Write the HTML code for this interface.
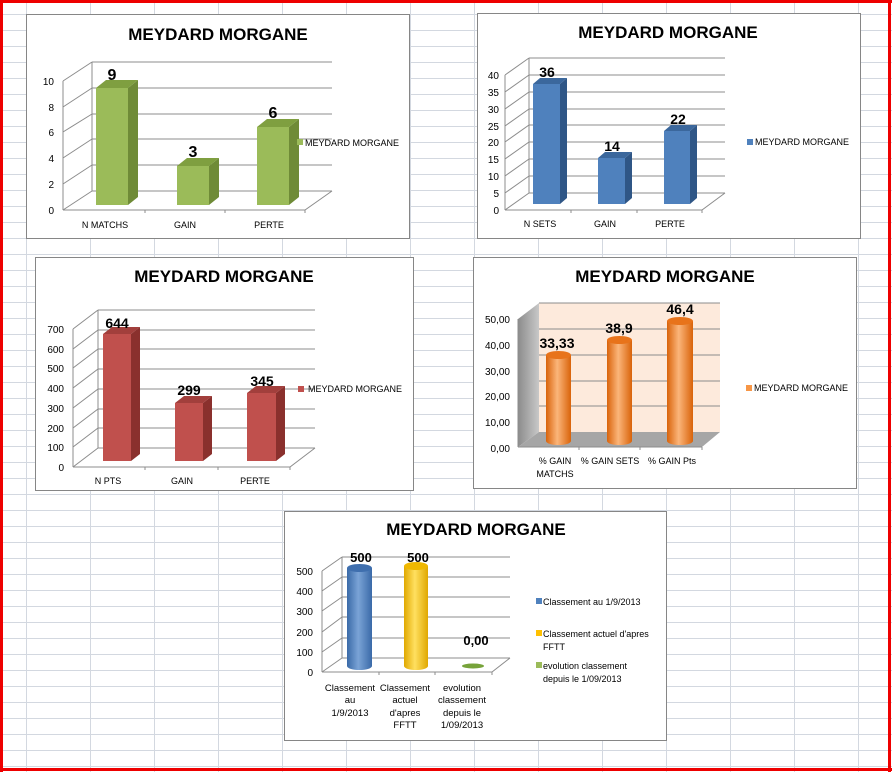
<!DOCTYPE html>
<html><head><meta charset="utf-8"><style>
html,body{margin:0;padding:0;width:892px;height:772px;overflow:hidden;background:#fff}
#bg{position:absolute;left:0;top:0;width:892px;height:772px;
background-image:repeating-linear-gradient(to right,transparent 0 26px,#d3d8e0 26px 27px,transparent 27px 64px),
repeating-linear-gradient(to bottom,transparent 0 14px,#d3d8e0 14px 15px,transparent 15px 16px);
background-size:64px 16px;background-position:0 0,0 0}
svg{position:absolute;left:0;top:0}
text{font-family:"Liberation Sans",sans-serif}
</style></head><body>
<div id="bg"></div>
<svg width="892" height="772" viewBox="0 0 892 772">
<defs>
<linearGradient id="og" x1="0" x2="1"><stop offset="0" stop-color="#d9630a"/><stop offset="0.45" stop-color="#fbb57a"/><stop offset="1" stop-color="#d9630a"/></linearGradient>
<linearGradient id="bgr" x1="0" x2="1"><stop offset="0" stop-color="#3a6aa8"/><stop offset="0.45" stop-color="#7aa3d6"/><stop offset="1" stop-color="#3a6aa8"/></linearGradient>
<linearGradient id="yg" x1="0" x2="1"><stop offset="0" stop-color="#e0a800"/><stop offset="0.45" stop-color="#ffe060"/><stop offset="1" stop-color="#e0a800"/></linearGradient>
<linearGradient id="sw" x1="0" x2="1"><stop offset="0" stop-color="#8c8c8c"/><stop offset="1" stop-color="#c8c8c8"/></linearGradient>
</defs>
<rect x="0" y="0" width="3" height="772" fill="#e00"/>
<rect x="0" y="0" width="892" height="3" fill="#e00"/>
<rect x="888" y="0" width="3" height="772" fill="#e00"/>
<rect x="0" y="768" width="892" height="3" fill="#e00"/>

<!-- CHART 1 -->
<rect x="26.5" y="14.5" width="383" height="224" fill="#fff" stroke="#868686"/>
<text x="218" y="40" font-size="17" font-weight="bold" text-anchor="middle">MEYDARD MORGANE</text>
<g stroke="#8c8c8c" stroke-width="1" fill="none">
<path d="M92 191H332M92 165H332M92 139H332M92 114H332M92 88H332M92 62H332M92 62V191"/>
<path d="M63 210L92 191M63 184L92 165M63 158L92 139M63 132L92 114M63 107L92 88M63 81L92 62"/>
<path d="M63 210H305L332 191M63 210V81M145 210v3M225 210v3M305 210v3"/>
</g>
<g font-size="10" text-anchor="end"><text x="54" y="214">0</text><text x="54" y="188">2</text><text x="54" y="162">4</text><text x="54" y="136">6</text><text x="54" y="111">8</text><text x="54" y="85">10</text></g>
<g><rect x="96" y="88" width="32" height="117" fill="#9bbb59"/><polygon points="128,205 138,197 138,80 128,88" fill="#6f8b37"/><polygon points="96,88 106,80 138,80 128,88" fill="#7f9f40"/>
<rect x="177" y="166" width="32" height="39" fill="#9bbb59"/><polygon points="209,205 219,197 219,158 209,166" fill="#6f8b37"/><polygon points="177,166 187,158 219,158 209,166" fill="#7f9f40"/>
<rect x="257" y="127" width="32" height="78" fill="#9bbb59"/><polygon points="289,205 299,197 299,119 289,127" fill="#6f8b37"/><polygon points="257,127 267,119 299,119 289,127" fill="#7f9f40"/></g>
<g font-size="16" font-weight="bold" text-anchor="middle"><text x="112" y="80">9</text><text x="193" y="157">3</text><text x="273" y="118">6</text></g>
<g font-size="9" text-anchor="middle"><text x="105" y="228">N MATCHS</text><text x="185" y="228">GAIN</text><text x="269" y="228">PERTE</text></g>
<rect x="297" y="139" width="6" height="6" fill="#9bbb59"/><text x="305" y="146" font-size="9">MEYDARD MORGANE</text>

<!-- CHART 2 -->
<rect x="477.5" y="13.5" width="383" height="225" fill="#fff" stroke="#868686"/>
<text x="668" y="38" font-size="17" font-weight="bold" text-anchor="middle">MEYDARD MORGANE</text>
<g stroke="#8c8c8c" fill="none">
<path d="M529 193H725M529 176H725M529 159H725M529 142H725M529 125H725M529 109H725M529 92H725M529 75H725M529 58H725M529 58V193"/>
<path d="M505 210L529 193M505 193L529 176M505 176L529 159M505 159L529 142M505 142L529 125M505 126L529 109M505 109L529 92M505 92L529 75M505 75L529 58"/>
<path d="M505 210H702L725 193M505 210V75M571 210v3M637 210v3M702 210v3"/>
</g>
<g font-size="10" text-anchor="end"><text x="499" y="214">0</text><text x="499" y="197">5</text><text x="499" y="180">10</text><text x="499" y="163">15</text><text x="499" y="146">20</text><text x="499" y="130">25</text><text x="499" y="113">30</text><text x="499" y="96">35</text><text x="499" y="79">40</text></g>
<g><rect x="533" y="84" width="27" height="120" fill="#4f81bd"/><polygon points="560,204 567,198 567,78 560,84" fill="#2f5686"/><polygon points="533,84 540,78 567,78 560,84" fill="#3b679c"/>
<rect x="598" y="158" width="27" height="46" fill="#4f81bd"/><polygon points="625,204 632,198 632,152 625,158" fill="#2f5686"/><polygon points="598,158 605,152 632,152 625,158" fill="#3b679c"/>
<rect x="664" y="131" width="26" height="73" fill="#4f81bd"/><polygon points="690,204 697,198 697,125 690,131" fill="#2f5686"/><polygon points="664,131 671,125 697,125 690,131" fill="#3b679c"/></g>
<g font-size="14" font-weight="bold" text-anchor="middle"><text x="547" y="77">36</text><text x="612" y="151">14</text><text x="678" y="124">22</text></g>
<g font-size="9" text-anchor="middle"><text x="540" y="227">N SETS</text><text x="605" y="227">GAIN</text><text x="670" y="227">PERTE</text></g>
<rect x="747" y="139" width="6" height="6" fill="#4f81bd"/><text x="755" y="145" font-size="9">MEYDARD MORGANE</text>

<!-- CHART 3 -->
<rect x="35.5" y="257.5" width="378" height="233" fill="#fff" stroke="#868686"/>
<text x="224" y="282" font-size="17" font-weight="bold" text-anchor="middle">MEYDARD MORGANE</text>
<g stroke="#8c8c8c" fill="none">
<path d="M98 448H315M98 428H315M98 409H315M98 389H315M98 369H315M98 349H315M98 330H315M98 310H315M98 310V448"/>
<path d="M73 467L98 448M73 447L98 428M73 428L98 409M73 408L98 389M73 388L98 369M73 368L98 349M73 349L98 330M73 329L98 310"/>
<path d="M73 467H290L315 448M73 467V329M145 467v3M218 467v3M290 467v3"/>
</g>
<g font-size="10" text-anchor="end"><text x="64" y="471">0</text><text x="64" y="451">100</text><text x="64" y="432">200</text><text x="64" y="412">300</text><text x="64" y="392">400</text><text x="64" y="372">500</text><text x="64" y="353">600</text><text x="64" y="333">700</text></g>
<g><rect x="103" y="334" width="28" height="127" fill="#c0504d"/><polygon points="131,461 140,454 140,327 131,334" fill="#8a302d"/><polygon points="103,334 112,327 140,327 131,334" fill="#a23f3c"/>
<rect x="175" y="403" width="28" height="58" fill="#c0504d"/><polygon points="203,461 212,454 212,396 203,403" fill="#8a302d"/><polygon points="175,403 184,396 212,396 203,403" fill="#a23f3c"/>
<rect x="247" y="393" width="29" height="68" fill="#c0504d"/><polygon points="276,461 285,454 285,386 276,393" fill="#8a302d"/><polygon points="247,393 256,386 285,386 276,393" fill="#a23f3c"/></g>
<g font-size="14" font-weight="bold" text-anchor="middle"><text x="117" y="328">644</text><text x="189" y="395">299</text><text x="262" y="386">345</text></g>
<g font-size="9" text-anchor="middle"><text x="108" y="484">N PTS</text><text x="182" y="484">GAIN</text><text x="255" y="484">PERTE</text></g>
<rect x="298" y="386" width="6" height="6" fill="#c0504d"/><text x="308" y="392" font-size="9">MEYDARD MORGANE</text>

<!-- CHART 4 -->
<rect x="473.5" y="257.5" width="383" height="231" fill="#fff" stroke="#868686"/>
<text x="665" y="282" font-size="17" font-weight="bold" text-anchor="middle">MEYDARD MORGANE</text>
<polygon points="539,303 720,303 720,432 539,432" fill="#fdeadc"/>
<polygon points="518,319 539,303 539,432 518,447" fill="url(#sw)"/>
<polygon points="518,447 539,432 720,432 702,447" fill="#a6a6a6"/>
<g stroke="#8c8c8c" fill="none">
<path d="M539 406H720M539 381H720M539 355H720M539 329H720M539 303H720"/>
<path d="M518 447H702M518 447V319M579 447v3M640 447v3M702 447v3"/>
</g>
<g font-size="10" text-anchor="end"><text x="510" y="452">0,00</text><text x="510" y="426">10,00</text><text x="510" y="400">20,00</text><text x="510" y="375">30,00</text><text x="510" y="349">40,00</text><text x="510" y="323">50,00</text></g>
<g>
<path d="M546 355V441A12.5 4 0 0 0 571 441V355Z" fill="url(#og)"/><ellipse cx="558.5" cy="355" rx="12.5" ry="4" fill="#e8731a"/>
<path d="M607 340V441A12.5 4 0 0 0 632 441V340Z" fill="url(#og)"/><ellipse cx="619.5" cy="340" rx="12.5" ry="4" fill="#e8731a"/>
<path d="M667 321V441A13 4 0 0 0 693 441V321Z" fill="url(#og)"/><ellipse cx="680" cy="321" rx="13" ry="4" fill="#e8731a"/>
</g>
<g font-size="14" font-weight="bold" text-anchor="middle"><text x="557" y="348">33,33</text><text x="619" y="333">38,9</text><text x="680" y="314">46,4</text></g>
<g font-size="9" text-anchor="middle"><text x="555" y="464">% GAIN</text><text x="555" y="477">MATCHS</text><text x="610" y="464">% GAIN SETS</text><text x="672" y="464">% GAIN Pts</text></g>
<rect x="746" y="385" width="6" height="6" fill="#f79646"/><text x="754" y="391" font-size="9">MEYDARD MORGANE</text>

<!-- CHART 5 -->
<rect x="284.5" y="511.5" width="382" height="229" fill="#fff" stroke="#868686"/>
<text x="476" y="535" font-size="17" font-weight="bold" text-anchor="middle">MEYDARD MORGANE</text>
<g stroke="#8c8c8c" fill="none">
<path d="M342 658H510M342 638H510M342 617H510M342 597H510M342 577H510M342 557H510M342 557V658"/>
<path d="M322 672L342 658M322 652L342 638M322 632L342 617M322 611L342 597M322 591L342 577M322 571L342 557"/>
<path d="M322 672H492L510 658M322 672V571M379 672v3M435 672v3M492 672v3"/>
</g>
<g font-size="10" text-anchor="end"><text x="313" y="676">0</text><text x="313" y="656">100</text><text x="313" y="636">200</text><text x="313" y="615">300</text><text x="313" y="595">400</text><text x="313" y="575">500</text></g>
<path d="M347 568V666A12.5 4 0 0 0 372 666V568Z" fill="url(#bgr)"/><ellipse cx="359.5" cy="568" rx="12.5" ry="4" fill="#3f6fae"/>
<path d="M404 566V666A12 4 0 0 0 428 666V566Z" fill="url(#yg)"/><ellipse cx="416" cy="566" rx="12" ry="4" fill="#f0b800"/>
<ellipse cx="473" cy="666" rx="11" ry="2.5" fill="#77a33a"/>
<g font-size="13" font-weight="bold" text-anchor="middle"><text x="361" y="562">500</text><text x="418" y="562">500</text><text x="476" y="645">0,00</text></g>
<g font-size="9.5" text-anchor="middle"><text x="350" y="691">Classement</text><text x="350" y="703">au</text><text x="350" y="716">1/9/2013</text>
<text x="405" y="691">Classement</text><text x="405" y="703">actuel</text><text x="405" y="716">d'apres</text><text x="405" y="728">FFTT</text>
<text x="462" y="691">evolution</text><text x="462" y="703">classement</text><text x="462" y="716">depuis le</text><text x="462" y="728">1/09/2013</text></g>
<g font-size="9"><rect x="536" y="598" width="6" height="6" fill="#4f81bd"/><text x="543" y="605">Classement au 1/9/2013</text>
<rect x="536" y="630" width="6" height="6" fill="#ffc000"/><text x="543" y="637">Classement actuel d'apres</text><text x="543" y="650">FFTT</text>
<rect x="536" y="662" width="6" height="6" fill="#9bbb59"/><text x="543" y="669">evolution classement</text><text x="543" y="682">depuis le 1/09/2013</text></g>
</svg>
</body></html>
